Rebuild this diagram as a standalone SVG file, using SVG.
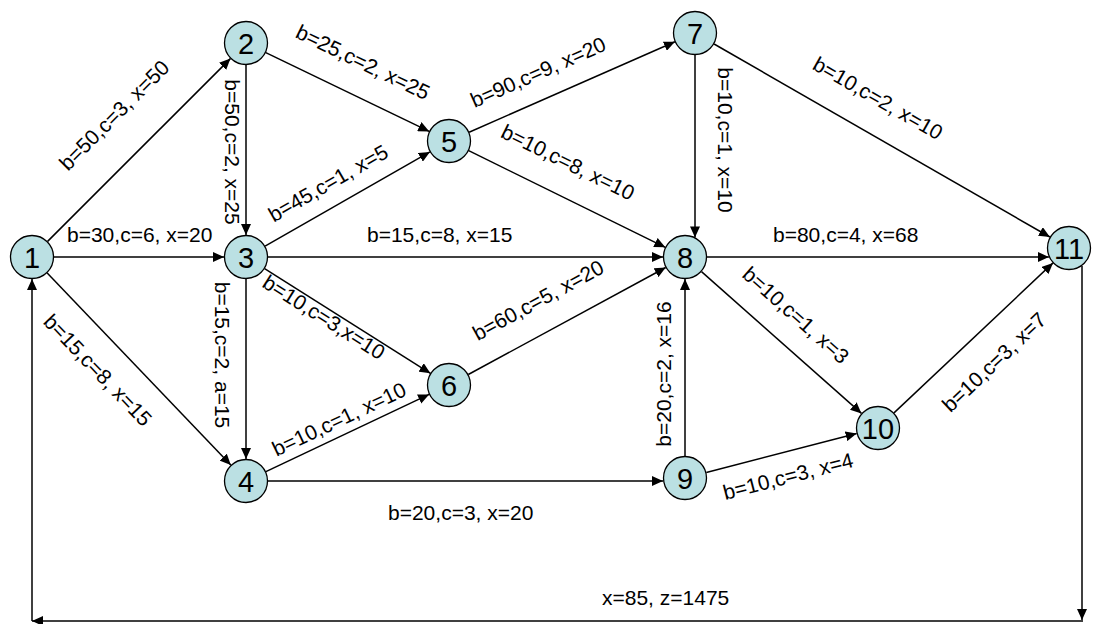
<svg xmlns="http://www.w3.org/2000/svg" width="1094" height="624" viewBox="0 0 1094 624">
<style>
.e{stroke:#000;stroke-width:1.5;fill:none;marker-end:url(#ah)}
.n circle{fill:#BBE0E3;stroke:#000;stroke-width:1.3}
.n text{font-family:"Liberation Sans",Arial,sans-serif;font-size:29px;text-anchor:middle;fill:#000}
.l{font-family:"Liberation Sans",Arial,sans-serif;font-size:21px;fill:#000}
.r{text-anchor:middle;dominant-baseline:central}
</style>
<defs>
<marker id="ah" markerUnits="userSpaceOnUse" markerWidth="11" markerHeight="10" refX="11" refY="5" orient="auto">
<path d="M0,0 L11,5 L0,10 z" fill="#000"/>
</marker>
</defs>
<rect width="1094" height="624" fill="#fff"/>
<g id="connectors">
<line class="e" x1="47.6" y1="241.4" x2="230.4" y2="58.6"/>
<line class="e" x1="54" y1="257" x2="224" y2="257"/>
<line class="e" x1="47.2" y1="272.9" x2="230.8" y2="465.1"/>
<line class="e" x1="246" y1="65" x2="246" y2="235"/>
<line class="e" x1="265.8" y1="52.6" x2="429.2" y2="131.4"/>
<line class="e" x1="265.1" y1="246.1" x2="429.9" y2="151.9"/>
<line class="e" x1="268" y1="257" x2="663" y2="257"/>
<line class="e" x1="264.6" y1="268.7" x2="430.4" y2="373.3"/>
<line class="e" x1="246" y1="279" x2="246" y2="459"/>
<line class="e" x1="265.9" y1="471.6" x2="429.1" y2="394.4"/>
<line class="e" x1="268" y1="481" x2="663" y2="481"/>
<line class="e" x1="468.3" y1="374.5" x2="665.7" y2="267.5"/>
<line class="e" x1="469.1" y1="132.2" x2="674.9" y2="41.8"/>
<line class="e" x1="468.7" y1="150.7" x2="665.3" y2="247.3"/>
<line class="e" x1="695" y1="55" x2="695" y2="237.4"/>
<line class="e" x1="714.1" y1="44" x2="1049.9" y2="237"/>
<line class="e" x1="707" y1="257" x2="1048.9" y2="257"/>
<line class="e" x1="701.5" y1="271.6" x2="861.5" y2="413.4"/>
<line class="e" x1="685" y1="456" x2="685" y2="279"/>
<line class="e" x1="706.3" y1="472.5" x2="856.7" y2="433.5"/>
<line class="e" x1="894" y1="412.9" x2="1053" y2="262.9"/>
<line class="e" x1="1082" y1="266" x2="1082" y2="620"/>
<line class="e" x1="1083" y1="621" x2="32" y2="621"/>
<line class="e" x1="32" y1="621" x2="32" y2="279"/>
</g>
<g id="labels">
<text class="l" x="67" y="242">b=30,c=6, x=20</text>
<text class="l" x="367" y="242">b=15,c=8, x=15</text>
<text class="l" x="773" y="242">b=80,c=4, x=68</text>
<text class="l" x="388" y="520">b=20,c=3, x=20</text>
<text class="l" x="602" y="605">x=85, z=1475</text>
<text class="l r" transform="translate(114,115) rotate(-45)">b=50,c=3, x=50</text>
<text class="l r" transform="translate(232,152) rotate(90)">b=50,c=2, x=25</text>
<text class="l r" transform="translate(363,62) rotate(25.8)">b=25,c=2, x=25</text>
<text class="l r" transform="translate(328,183) rotate(-29.7)">b=45,c=1, x=5</text>
<text class="l r" transform="translate(324,317) rotate(32.2)">b=10,c=3,x=10</text>
<text class="l r" transform="translate(222,355) rotate(90)">b=15,c=2, a=15</text>
<text class="l r" transform="translate(98,370) rotate(46.3)">b=15,c=8, x=15</text>
<text class="l r" transform="translate(339,419) rotate(-25.3)">b=10,c=1, x=10</text>
<text class="l r" transform="translate(538,300) rotate(-28.5)">b=60,c=5, x=20</text>
<text class="l r" transform="translate(538,72) rotate(-23.7)">b=90,c=9, x=20</text>
<text class="l r" transform="translate(568,162) rotate(26.2)">b=10,c=8, x=10</text>
<text class="l r" transform="translate(725,140) rotate(90)">b=10,c=1, x=10</text>
<text class="l r" transform="translate(878,98) rotate(29.7)">b=10,c=2, x=10</text>
<text class="l r" transform="translate(796,315) rotate(41.5)">b=10,c=1, x=3</text>
<text class="l r" transform="translate(663,374) rotate(-90)">b=20,c=2, x=16</text>
<text class="l r" transform="translate(788,476) rotate(-14.5)">b=10,c=3, x=4</text>
<text class="l r" transform="translate(994,362) rotate(-43.3)">b=10,c=3, x=7</text>
</g>
<g id="node1" class="n"><circle cx="32" cy="257" r="21.5"/><text x="32" y="267.5">1</text></g>
<g id="node2" class="n"><circle cx="246" cy="43" r="21.5"/><text x="246" y="53.5">2</text></g>
<g id="node3" class="n"><circle cx="246" cy="257" r="21.5"/><text x="246" y="267.5">3</text></g>
<g id="node4" class="n"><circle cx="246" cy="481" r="21.5"/><text x="246" y="491.5">4</text></g>
<g id="node5" class="n"><circle cx="449" cy="141" r="21.5"/><text x="449" y="151.5">5</text></g>
<g id="node6" class="n"><circle cx="449" cy="385" r="21.5"/><text x="449" y="395.5">6</text></g>
<g id="node7" class="n"><circle cx="695" cy="33" r="21.5"/><text x="695" y="43.5">7</text></g>
<g id="node8" class="n"><circle cx="685" cy="257" r="21.5"/><text x="685" y="267.5">8</text></g>
<g id="node9" class="n"><circle cx="685" cy="478" r="21.5"/><text x="685" y="488.5">9</text></g>
<g id="node10" class="n"><circle cx="878" cy="428" r="21.5"/><text x="878" y="438.5">10</text></g>
<g id="node11" class="n"><circle cx="1069" cy="248" r="21.5"/><text x="1069" y="258.5">11</text></g>
</svg>
